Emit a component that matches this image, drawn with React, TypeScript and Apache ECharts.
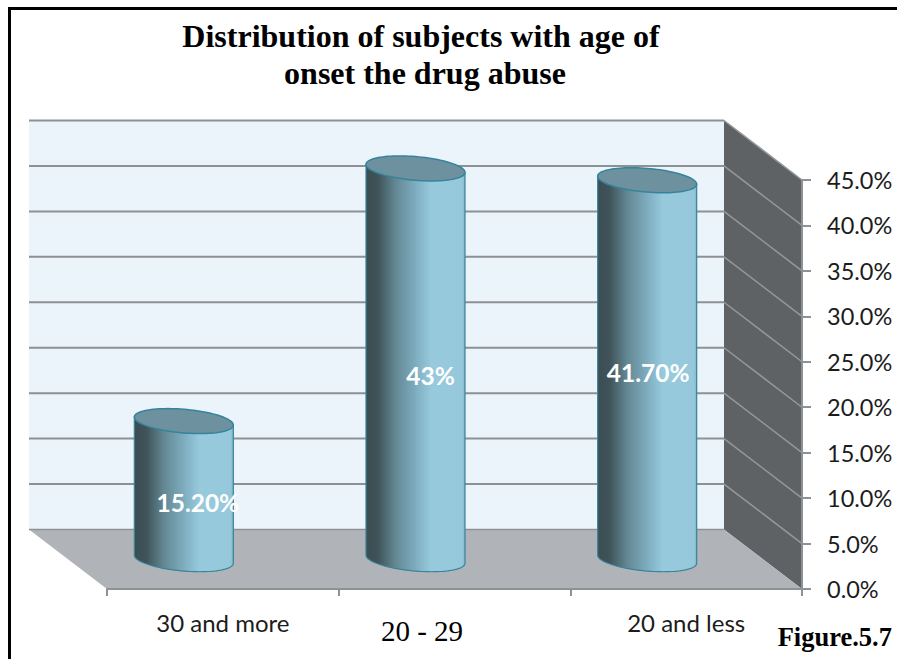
import React, { useEffect, useRef } from "react";
import * as echarts from "echarts";

const titleLines = ["Distribution of subjects with age of", "onset the drug abuse"];
const categories = ["30 and more", "20 - 29", "20 and less"];
const shares = [15.2, 43, 41.7];
const shareLabels = ["15.20%", "43%", "41.70%"];
const gridTicks = [5, 10, 15, 20, 25, 30, 35, 40, 45];
const figureCaption = "Figure.5.7";

// Oblique projection: how far the back wall sits from the front plane.
const DEPTH_X = -78;
const DEPTH_Y = -59.5;
// Tilted ellipse used for the cylinder's cap and base.
const CAP_RX = 49.67;
const CAP_RY = 11.8;
const CAP_TILT = (4.9 * Math.PI) / 180;
const OUTLINE_STEPS = 96;
// Where each value label rests relative to the cylinder's middle.
const LABEL_SHIFT = [
  [14, 12],
  [15, 12],
  [1, 3],
];

const serif = "'Liberation Serif', 'Times New Roman', serif";
const sans = "Lato, 'Noto Sans', sans-serif";

// Points of the tilted ellipse, starting at its leftmost point and running
// left -> bottom -> right -> top, so the first half is the lower rim.
function ellipseOutline(cx: number, cy: number): number[][] {
  const cos = Math.cos(CAP_TILT);
  const sin = Math.sin(CAP_TILT);
  const t0 = Math.PI + Math.atan2(-CAP_RY * sin, CAP_RX * cos);
  const pts: number[][] = [];
  for (let i = 0; i < OUTLINE_STEPS; i++) {
    const t = t0 - (i / OUTLINE_STEPS) * 2 * Math.PI;
    const ex = CAP_RX * Math.cos(t);
    const ey = CAP_RY * Math.sin(t);
    pts.push([cx + ex * cos - ey * sin, cy + ex * sin + ey * cos]);
  }
  return pts;
}

function renderWalls(params: any) {
  const { x, y, width, height } = params.coordSys;
  const bottom = y + height;
  const right = x + width;
  return {
    type: "group",
    children: [
      {
        type: "polygon",
        shape: {
          points: [
            [x + DEPTH_X, y + DEPTH_Y],
            [right + DEPTH_X, y + DEPTH_Y],
            [right + DEPTH_X, bottom + DEPTH_Y],
            [x + DEPTH_X, bottom + DEPTH_Y],
          ],
        },
        style: { fill: "#EBF3FB" },
      },
      {
        type: "polygon",
        shape: {
          points: [
            [right + DEPTH_X, y + DEPTH_Y],
            [right, y],
            [right, bottom],
            [right + DEPTH_X, bottom + DEPTH_Y],
          ],
        },
        style: { fill: "#5E6265" },
      },
      {
        type: "polygon",
        shape: {
          points: [
            [x + DEPTH_X, bottom + DEPTH_Y],
            [right + DEPTH_X, bottom + DEPTH_Y],
            [right, bottom],
            [x, bottom],
          ],
        },
        style: { fill: "#B0B4B8" },
      },
      {
        type: "line",
        shape: { x1: x + DEPTH_X, y1: bottom + DEPTH_Y, x2: right + DEPTH_X, y2: bottom + DEPTH_Y },
        style: { stroke: "#8F9295", lineWidth: 1.5 },
      },
    ],
  };
}

function renderGridLine(params: any, api: any) {
  const { x, width } = params.coordSys;
  const right = x + width;
  const py = api.coord([0, api.value(1)])[1];
  return {
    type: "group",
    children: [
      {
        type: "line",
        shape: { x1: x + DEPTH_X, y1: py + DEPTH_Y, x2: right + DEPTH_X, y2: py + DEPTH_Y },
        style: { stroke: "#8E9193", lineWidth: 2 },
      },
      {
        type: "line",
        shape: { x1: right + DEPTH_X, y1: py + DEPTH_Y, x2: right, y2: py },
        style: { stroke: "#95989A", lineWidth: 1.5 },
      },
    ],
  };
}

function renderCylinder(params: any, api: any) {
  const idx = params.dataIndex;
  const base = api.coord([api.value(0), 0]);
  const top = api.coord([api.value(0), api.value(1)]);
  const cx = base[0] + DEPTH_X / 2;
  const baseY = base[1] + DEPTH_Y / 2;
  const topY = top[1] + DEPTH_Y / 2;
  const half = OUTLINE_STEPS / 2;
  const capRim = ellipseOutline(cx, topY);
  const baseRim = ellipseOutline(cx, baseY).slice(0, half + 1);
  // Body: lower rim of the base, then straight across under the cap.
  const bodyPoints = [capRim[0], ...baseRim, capRim[half]];
  const [dx, dy] = LABEL_SHIFT[idx];
  return {
    type: "group",
    children: [
      {
        type: "polygon",
        shape: { points: bodyPoints },
        style: {
          fill: new echarts.graphic.LinearGradient(0, 0, 1, 0, [
            { offset: 0, color: "#3B4D53" },
            { offset: 0.12, color: "#3F5359" },
            { offset: 0.3, color: "#648894" },
            { offset: 0.48, color: "#7BA9BB" },
            { offset: 0.66, color: "#97CADD" },
            { offset: 0.97, color: "#95C8DB" },
            { offset: 1, color: "#84B6C8" },
          ]),
          stroke: "#3A8499",
          lineWidth: 1.2,
        },
      },
      {
        type: "polygon",
        shape: { points: capRim },
        style: { fill: "#6E919F", stroke: "#35849C", lineWidth: 1.5 },
      },
      {
        type: "text",
        x: cx + dx,
        y: (baseY + topY) / 2 + dy,
        style: {
          text: shareLabels[idx],
          fill: "#FFFFFF",
          font: `bold 24.5px ${sans}`,
          textAlign: "center",
          textVerticalAlign: "middle",
        },
      },
    ],
  };
}

const titleStyle = { fontFamily: serif, fontWeight: "bold", fontSize: 32, lineHeight: 37, color: "#000000" };

export default function App() {
  const ref = useRef<HTMLDivElement>(null);

  useEffect(() => {
    const chart = echarts.init(ref.current!, undefined, { renderer: "svg" });
    chart.setOption({
      animation: false,
      backgroundColor: "#FFFFFF",
      title: [
        { text: titleLines[0], left: 416, top: 12, textAlign: "center", textStyle: titleStyle },
        { text: titleLines[1], left: 420, top: 49, textAlign: "center", textStyle: titleStyle },
      ],
      grid: { left: 107, top: 180, width: 695, height: 409 },
      xAxis: {
        type: "category",
        data: categories,
        z: 5,
        axisLine: { lineStyle: { color: "#8F9295", width: 2 } },
        axisTick: { show: true, alignWithLabel: false, length: 7, lineStyle: { color: "#8F9295", width: 2 } },
        axisLabel: {
          interval: 0,
          margin: 0,
          formatter: (v: string) => (v === categories[1] ? `{serif|${v}}` : `{sans|${v}}`),
          rich: {
            sans: { fontFamily: sans, fontSize: 24, color: "#1C1C1C", padding: [21, 0, 0, 0] },
            serif: { fontFamily: serif, fontSize: 29, color: "#000000", padding: [27, 65, 0, 0] },
          },
        },
      },
      yAxis: {
        type: "value",
        position: "right",
        min: 0,
        max: 45,
        interval: 5,
        z: 5,
        axisLine: { show: true, lineStyle: { color: "#8F9295", width: 2 } },
        axisTick: { show: true, length: 9, lineStyle: { color: "#8F9295", width: 2 } },
        splitLine: { show: false },
        axisLabel: {
          margin: 25,
          fontFamily: sans,
          fontSize: 23.5,
          color: "#1C1C1C",
          formatter: (v: number) => `${v.toFixed(1)}%`,
        },
      },
      series: [
        { type: "custom", z: 1, silent: true, clip: false, renderItem: renderWalls, data: [[0, 0]], encode: { x: 0, y: 1 } },
        {
          type: "custom",
          z: 2,
          silent: true,
          clip: false,
          renderItem: renderGridLine,
          data: gridTicks.map((t) => [0, t]),
          encode: { x: 0, y: 1 },
        },
        {
          type: "custom",
          z: 3,
          silent: true,
          clip: false,
          renderItem: renderCylinder,
          data: shares.map((s, i) => [i, s]),
          encode: { x: 0, y: 1 },
        },
      ],
      graphic: [
        { type: "rect", shape: { x: 8, y: 7, width: 889, height: 3 }, style: { fill: "#000000" } },
        { type: "rect", shape: { x: 8, y: 7, width: 3, height: 652 }, style: { fill: "#000000" } },
        {
          type: "text",
          x: 892,
          y: 637,
          style: {
            text: figureCaption,
            fill: "#000000",
            font: `bold 26.5px ${serif}`,
            textAlign: "right",
            textVerticalAlign: "middle",
          },
        },
      ],
    });
    return () => chart.dispose();
  }, []);

  return <div ref={ref} style={{ position: "absolute", left: 0, top: 0, width: 897, height: 659 }} />;
}
